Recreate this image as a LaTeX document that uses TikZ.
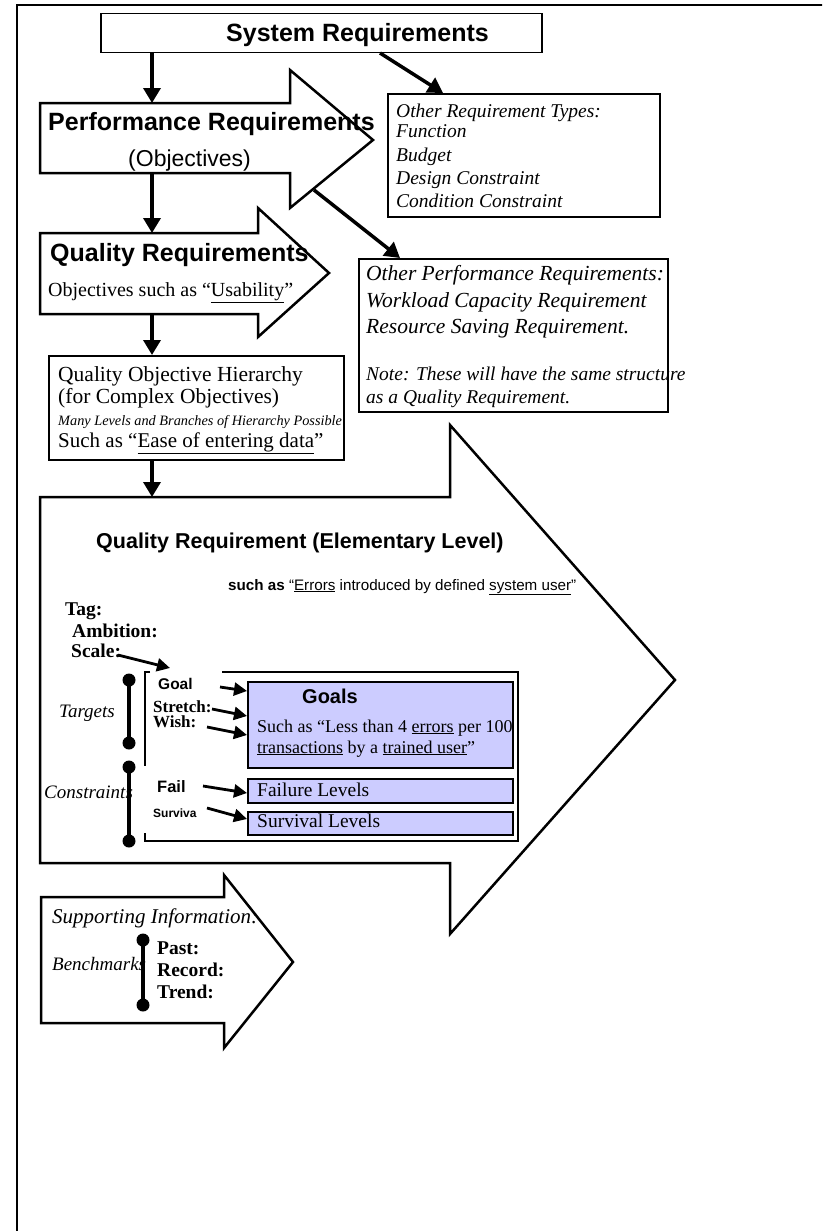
\documentclass[tikz,border=0pt]{standalone}
\usepackage{fontspec}
\setmainfont{Liberation Serif}
\setsansfont{Liberation Sans}
\usetikzlibrary{arrows.meta}
\definecolor{levelfill}{RGB}{204,204,255}
\newcommand\sz[1]{\fontsize{#1pt}{#1pt}\selectfont}

\begin{document}
\begin{tikzpicture}[x=1pt,y=-1pt,
  txt/.style={inner sep=0pt, anchor=base west},
  box/.style={draw, line width=1.5pt, inner sep=0pt, anchor=north west},
  lvlbox/.style={box, fill=levelfill},
  fatarrow/.style={draw, line width=2.5pt, fill=white, line join=miter},
  conn/.style={line width=3.5pt, -{Triangle[length=15pt,width=17pt]}},
  pointer/.style={line width=2.8pt, -{Triangle[length=13pt,width=13pt]}},
  rangebar/.style={line width=4pt},
]
\useasboundingbox (0,0) rectangle (822,1231);
\clip (0,0) rectangle (822,1231);

% page frame
\draw[line width=1.5pt] (17,5) rectangle (850,1260);

% ---------- fat arrows ----------
\draw[fatarrow] (40,103) -- (290,103) -- (290,70) -- (373,140) -- (290,208) -- (290,173) -- (40,173) -- cycle;
\draw[fatarrow] (40,233) -- (258,233) -- (258,208) -- (329,273) -- (258,337) -- (258,314) -- (40,314) -- cycle;
\draw[fatarrow] (40,497) -- (450,497) -- (450,425) -- (675,680) -- (450,934) -- (450,863) -- (40,863) -- cycle;
\draw[fatarrow] (41,897) -- (224,897) -- (224,875) -- (293,962) -- (224,1048) -- (224,1023) -- (41,1023) -- cycle;

% ---------- system requirements ----------
\node[box, minimum width=441pt, minimum height=39pt] (sysreq) at (100,13) {};
\node[txt, font=\sffamily\bfseries\sz{25}] (sysreqtext) at (226,42) {System Requirements};

% ---------- performance requirements ----------
\node[txt, font=\sffamily\bfseries\sz{25}] (perftitle) at (48,130) {Performance Requirements};
\node[txt, font=\sffamily\sz{23}] (perfsub) at (128,166) {(Objectives)};

% ---------- other requirement types ----------
\node[box, minimum width=272pt, minimum height=123pt] (othertypes) at (387,93) {};
\begin{scope}[every node/.style={txt, font=\itshape\sz{19.5}}]
  \node (ot1) at (396,117) {Other Requirement Types:};
  \node (ot2) at (396,137) {Function};
  \node (ot3) at (396,161) {Budget};
  \node (ot4) at (396,184) {Design Constraint};
  \node (ot5) at (396,207) {Condition Constraint};
\end{scope}

% ---------- quality requirements ----------
\node[txt, font=\sffamily\bfseries\sz{25}] (qtitle) at (50,261) {Quality Requirements};
\node[txt, font=\sz{20}] (qsub) at (48,296) {Objectives such as “\underline{Usability}”};

% ---------- other performance requirements ----------
\node[box, minimum width=309pt, minimum height=153pt] (otherperf) at (358,258) {};
\begin{scope}[every node/.style={txt, font=\itshape\sz{21.5}}]
  \node (op1) at (366,280) {Other Performance Requirements:};
  \node (op2) at (366,307) {Workload Capacity Requirement};
  \node (op3) at (366,333) {Resource Saving Requirement.};
\end{scope}
\begin{scope}[every node/.style={txt, font=\itshape\sz{19.5}}]
  \node (op4) at (366,380) {Note: These will have the same structure};
  \node (op5) at (366,403) {as a Quality Requirement.};
\end{scope}

% ---------- objective hierarchy ----------
\node[box, minimum width=295pt, minimum height=104pt] (hier) at (48,355) {};
\node[txt, font=\sz{21.5}] (h1) at (58,381) {Quality Objective Hierarchy};
\node[txt, font=\sz{21.5}] (h2) at (58,403) {(for Complex Objectives)};
\node[txt, font=\itshape\sz{14.3}] (h3) at (58,425) {Many Levels and Branches of Hierarchy Possible};
\node[txt, font=\sz{21}] (h4) at (58,447) {Such as “\underline{Ease of entering data}”};

% ---------- elementary level ----------
\node[txt, font=\sffamily\bfseries\sz{21.5}] (eltitle) at (96,548) {Quality Requirement (Elementary Level)};
\node[txt, font=\sffamily\sz{15.2}] (elsub) at (228,590) {\textbf{such as} “\underline{Errors} introduced by defined \underline{system user}”};

\begin{scope}[every node/.style={txt, font=\bfseries\sz{19.5}}]
  \node (tag) at (65,615) {Tag:};
  \node (amb) at (72,637) {Ambition:};
  \node (scale) at (71,657) {Scale:};
\end{scope}

% level frame, open where the labels sit
\draw[line width=1.5pt] (150,672) -- (145,672) -- (145,766);
\draw[line width=1.5pt] (145,833) -- (145,841) -- (518,841) -- (518,672) -- (222,672);

\node[lvlbox, minimum width=265pt, minimum height=86pt] (goals) at (247,681) {};
\node[lvlbox, minimum width=265pt, minimum height=24pt] (failbox) at (247,778) {};
\node[lvlbox, minimum width=265pt, minimum height=23pt] (survbox) at (247,811) {};

\node[txt, font=\sffamily\bfseries\sz{20}] (goalstitle) at (302,703) {Goals};
\node[txt, font=\sz{18}] (g1) at (257,732) {Such as “Less than 4 \underline{errors} per 100};
\node[txt, font=\sz{18}] (g2) at (257,753) {\underline{transactions} by a \underline{trained user}”};
\node[txt, font=\sz{19.5}] (failtext) at (257,796) {Failure Levels};
\node[txt, font=\sz{19.5}] (survtext) at (257,827) {Survival Levels};

\node[txt, font=\sffamily\bfseries\sz{15.5}] (lgoal) at (158,689) {Goal};
\node[txt, font=\bfseries\sz{17}] (lstretch) at (153,712) {Stretch:};
\node[txt, font=\bfseries\sz{17}] (lwish) at (153,727) {Wish:};
\node[txt, font=\sffamily\bfseries\sz{16.5}] (lfail) at (157,792) {Fail};
\node[txt, font=\sffamily\bfseries\sz{12}] (lsurv) at (153,817) {Surviva};

\node[txt, font=\itshape\sz{19}] (targets) at (59,717) {Targets};
\node[txt, font=\itshape\sz{19}] (constraints) at (44,798) {Constraints};

% range bars
\coordinate (ta) at (129,680); \coordinate (tb) at (129,743);
\coordinate (ca) at (129,767); \coordinate (cb) at (129,841);
\draw[rangebar] (ta) -- (tb);
\draw[rangebar] (ca) -- (cb);
\foreach \p in {ta,tb,ca,cb} \fill (\p) circle (6.5pt);

% pointers into the level boxes
\coordinate (sa) at (118,655); \coordinate (sb) at (170,668);
\coordinate (pa1) at (220,687); \coordinate (pb1) at (247,691);
\coordinate (pa2) at (212,709); \coordinate (pb2) at (247,716);
\coordinate (pa3) at (207,727); \coordinate (pb3) at (247,735);
\coordinate (pa4) at (203,786); \coordinate (pb4) at (247,793);
\coordinate (pa5) at (207,808); \coordinate (pb5) at (247,819);
\draw[pointer] (sa) -- (sb);
\draw[pointer] (pa1) -- (pb1);
\draw[pointer] (pa2) -- (pb2);
\draw[pointer] (pa3) -- (pb3);
\draw[pointer] (pa4) -- (pb4);
\draw[pointer] (pa5) -- (pb5);

% ---------- supporting information ----------
\node[txt, font=\itshape\sz{21}] (support) at (52,923) {Supporting Information:};
\node[txt, font=\itshape\sz{19}] (bench) at (52,970) {Benchmarks};
\coordinate (ba) at (143,940); \coordinate (bb) at (143,1005);
\draw[rangebar] (ba) -- (bb);
\foreach \p in {ba,bb} \fill (\p) circle (6.5pt);
\begin{scope}[every node/.style={txt, font=\bfseries\sz{19.5}}]
  \node (past) at (157,954) {Past:};
  \node (record) at (157,976) {Record:};
  \node (trend) at (157,998) {Trend:};
\end{scope}

% ---------- main connectors ----------
\coordinate (c1a) at (152,52);  \coordinate (c1b) at (152,103);
\coordinate (c2a) at (152,173); \coordinate (c2b) at (152,233);
\coordinate (c3a) at (152,314); \coordinate (c3b) at (152,355);
\coordinate (c4a) at (152,459); \coordinate (c4b) at (152,497);
\coordinate (d1a) at (380,53);  \coordinate (d1b) at (443,93);
\coordinate (d2a) at (314,190); \coordinate (d2b) at (400,258);
\draw[conn] (c1a) -- (c1b);
\draw[conn] (c2a) -- (c2b);
\draw[conn] (c3a) -- (c3b);
\draw[conn] (c4a) -- (c4b);
\draw[conn] (d1a) -- (d1b);
\draw[conn] (d2a) -- (d2b);
\end{tikzpicture}
\end{document}
